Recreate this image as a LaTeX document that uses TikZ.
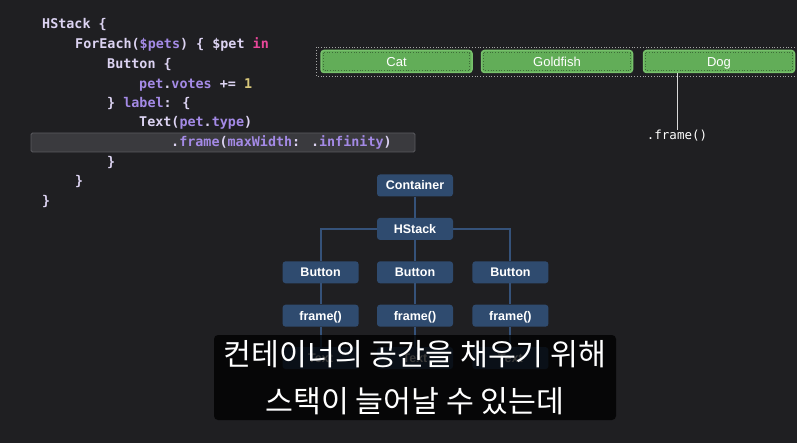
\documentclass[tikz,border=0pt]{standalone}
\usepackage{fontspec}
\setmainfont{Liberation Sans}
\newfontfamily\codefont{DejaVu Sans Mono}
\newfontfamily\cjkfont{Noto Sans CJK KR}
\usetikzlibrary{positioning}

\definecolor{bgdark}{HTML}{1F1F22}
\definecolor{codeplain}{HTML}{DCD3F2}
\definecolor{codepurple}{HTML}{A48AE6}
\definecolor{codepink}{HTML}{E9479A}
\definecolor{codeyellow}{HTML}{D8C77A}
\definecolor{barfill}{HTML}{3A3A3E}
\definecolor{barrim}{HTML}{5A5A5F}
\definecolor{petgreen}{HTML}{62AD58}
\definecolor{petrim}{HTML}{78C16C}
\definecolor{petdots}{HTML}{3E6E38}
\definecolor{treeblue}{HTML}{2F4B6F}
\definecolor{treelink}{HTML}{35527A}

\newcommand\swprop[1]{\textcolor{codepurple}{#1}}

\tikzset{
	codeline/.style={anchor=base west, inner sep=0pt, text=codeplain, font=\codefont\bfseries\fontsize{13.4}{16}\selectfont},
	petbutton/.style={fill=petgreen, draw=petrim, line width=1.5pt, rounded corners=3pt, minimum width=151pt, minimum height=22pt, inner sep=0pt, text height=9.3pt, text depth=0pt, text=white, font=\fontsize{13}{15}\selectfont},
	treebox/.style={fill=treeblue, rounded corners=3pt, minimum width=76pt, minimum height=22pt, inner sep=0pt, text height=9pt, text depth=0pt, text=white, font=\bfseries\fontsize{12.5}{14}\selectfont},
	treeline/.style={draw=treelink, line width=2pt},
}

\begin{document}
\begin{tikzpicture}[x=1pt,y=-1pt]
	\fill[bgdark] (0,0) rectangle (797,443);
	\useasboundingbox (0,0) rectangle (797,443);

	% code
	\fill[barfill, draw=barrim, line width=0.8pt, rounded corners=1.5pt] (31,133) rectangle (415,152);
	\node[codeline] (l1) at (42,29) {HStack \{};
	\node[codeline] (l2) at (75,48.5) {ForEach(\swprop{\$pets}) \{ \$pet \textcolor{codepink}{in}};
	\node[codeline] (l3) at (107,68.5) {Button \{};
	\node[codeline] (l4) at (139,88.5) {\swprop{pet}.\swprop{votes} += \textcolor{codeyellow}{1}};
	\node[codeline] (l5) at (107,107.5) {\} \swprop{label}: \{};
	\node[codeline] (l6) at (139,127) {Text(\swprop{pet}.\swprop{type})};
	\node[codeline] (l7) at (171,146.5) {.\swprop{frame}(\swprop{maxWidth}: .\swprop{infinity})};
	\node[codeline] (l8) at (107,166.5) {\}};
	\node[codeline] (l9) at (75,185.5) {\}};
	\node[codeline] (l10) at (42,205.5) {\}};

	% preview
	\draw[gray!70, dotted, line width=0.8pt] (316,47) rectangle (805,76);
	\node[petbutton] (cat) at (396.5,61.5) {Cat};
	\node[petbutton] (goldfish) at (557,61.5) {Goldfish};
	\node[petbutton] (dog) at (719,61.5) {Dog};
	\foreach \p in {cat,goldfish,dog}
		\draw[petdots, dotted, line width=0.7pt] ([shift={(3pt,-3pt)}]\p.north west) rectangle ([shift={(-3pt,3pt)}]\p.south east);
	\coordinate (dogfoot) at (677,73);
	\node[codeline, anchor=center, text=white, font=\codefont\fontsize{12.5}{14}\selectfont] (frametag) at (677,136) {.frame()};
	\draw[white!85!black, line width=0.7pt] (dogfoot) -- (frametag.north);

	% tree
	\node[treebox] (container) at (415,185.5) {Container};
	\node[treebox, below=21pt of container] (hstack) {HStack};
	\node[treebox, below=21pt of hstack] (btnB) {Button};
	\node[treebox, left=18pt of btnB] (btnA) {Button};
	\node[treebox, right=19pt of btnB] (btnC) {Button};
	\node[treebox, below=21pt of btnA] (frameA) {frame()};
	\node[treebox, below=21pt of btnB] (frameB) {frame()};
	\node[treebox, below=21pt of btnC] (frameC) {frame()};
	\node[treebox, below=20pt of frameA] (textA) {Text};
	\node[treebox, below=20pt of frameB] (textB) {Text};
	\node[treebox, below=20pt of frameC] (textC) {Text};
	\draw[treeline] (container) -- (hstack);
	\draw[treeline] (hstack) -- (btnB);
	\draw[treeline] (hstack.west) -| (btnA.north);
	\draw[treeline] (hstack.east) -| (btnC.north);
	\draw[treeline] (btnA) -- (frameA) -- (textA);
	\draw[treeline] (btnB) -- (frameB) -- (textB);
	\draw[treeline] (btnC) -- (frameC) -- (textC);

	% subtitle
	\node[fill=black, fill opacity=0.78, text opacity=1, rounded corners=4pt, minimum width=402pt, minimum height=85pt, inner sep=0pt, text=white, align=center, font=\cjkfont\fontsize{30.3}{47}\selectfont] (caption) at (415,377.5) {컨테이너의 공간을 채우기 위해\\스택이 늘어날 수 있는데};
\end{tikzpicture}
\end{document}
